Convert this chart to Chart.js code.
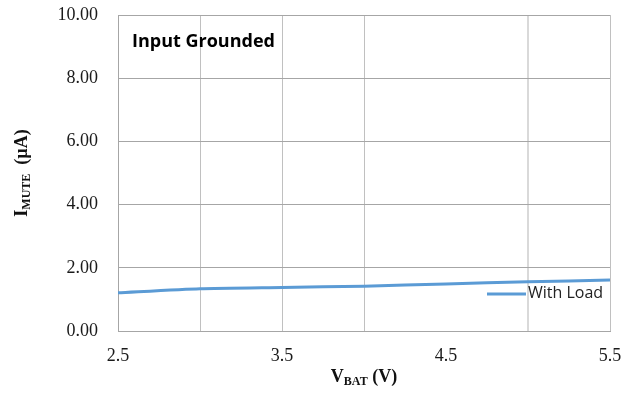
<!DOCTYPE html>
<html>
<head>
<meta charset="utf-8">
<script src="https://cdn.jsdelivr.net/npm/chart.js@4/dist/chart.umd.min.js"></script>
<style>
  html, body { margin: 0; padding: 0; background: #fff; }
  #wrap { width: 633px; height: 397px; position: relative; }
</style>
</head>
<body>
<div id="wrap"><canvas id="muteChart"></canvas></div>
<script>
// values
const vbat = [2.5, 3.0, 3.5, 4.0, 4.5, 5.0, 5.5];
const iMuteWithLoad = [1.21, 1.34, 1.38, 1.42, 1.49, 1.56, 1.61];
const xTickLabels = [2.5, 3.5, 4.5, 5.5];
const seriesName = "With Load";
const chartNote = "Input Grounded";

const serif = "'Liberation Serif', 'DejaVu Serif', serif";
const sans = "'Open Sans', 'Liberation Sans', sans-serif";

// draws the note, the axis titles (with subscripts) and the legend box
const extras = {
  id: "extras",
  afterDraw(chart) {
    const ctx = chart.ctx;
    const area = chart.chartArea;
    ctx.save();

    ctx.fillStyle = "#000";
    ctx.font = "bold 18px " + sans;
    ctx.textBaseline = "middle";
    ctx.textAlign = "left";
    ctx.fillText(chartNote, area.left + 14, area.top + 27);

    const drawSub = (parts, x, y) => {
      let w = 0;
      parts.forEach(p => { ctx.font = p[1]; w += ctx.measureText(p[0]).width; });
      let cx = x - w / 2;
      parts.forEach(p => {
        ctx.font = p[1];
        ctx.fillText(p[0], cx, y + p[2]);
        cx += ctx.measureText(p[0]).width;
      });
    };
    ctx.fillStyle = "#111";
    ctx.textBaseline = "alphabetic";
    // x title: V_BAT (V)
    drawSub([
      ["V", "bold 18px " + serif, 0],
      ["BAT", "bold 12px " + serif, 3],
      [" (V)", "bold 18px " + serif, 0]
    ], (area.left + area.right) / 2, 382);

    // y title: I_MUTE (µA)
    ctx.save();
    ctx.translate(27, (area.top + area.bottom) / 2);
    ctx.rotate(-Math.PI / 2);
    drawSub([
      ["I", "bold 18px " + serif, 0],
      ["MUTE", "bold 12px " + serif, 3],
      ["  (\u00b5A)", "bold 18px " + serif, 0]
    ], 0, 0);
    ctx.restore();

    // legend inside plot, lower right
    const ds = chart.data.datasets[0];
    const ly = area.bottom - 37;
    ctx.strokeStyle = ds.borderColor;
    ctx.lineWidth = 3;
    ctx.beginPath();
    ctx.moveTo(area.right - 123, ly);
    ctx.lineTo(area.right - 84, ly);
    ctx.stroke();
    ctx.fillStyle = "#222";
    ctx.font = "16px " + sans;
    ctx.textBaseline = "middle";
    ctx.fillText(ds.label, area.right - 82, ly - 1);

    ctx.restore();
  }
};

new Chart(document.getElementById("muteChart"), {
  type: "line",
  data: {
    datasets: [{
      label: seriesName,
      data: vbat.map((v, i) => ({ x: v, y: iMuteWithLoad[i] })),
      borderColor: "#5b9bd5",
      borderWidth: 3,
      pointRadius: 0,
      tension: 0.2,
      fill: false
    }]
  },
  options: {
    responsive: true,
    maintainAspectRatio: false,
    animation: false,
    layout: { padding: { top: 15, right: 23, left: 0, bottom: 0 } },
    plugins: {
      legend: { display: false },
      tooltip: { enabled: false }
    },
    scales: {
      x: {
        type: "linear",
        min: 2.5,
        max: 5.5,
        afterFit: s => { s.height = 66; s.paddingLeft = 0; s.paddingRight = 0; },
        afterBuildTicks: s => {
          s.ticks = vbat.map(v => ({ value: v }));
        },
        ticks: {
          padding: 14,
          maxRotation: 0,
          autoSkip: false,
          color: "#1a1a1a",
          font: { family: serif, size: 18 },
          callback: v => xTickLabels.includes(v) ? v.toFixed(1) : ""
        },
        grid: {
          color: c => c.tick && c.tick.value === 4.5 ? "rgba(0,0,0,0)" :
            (c.tick && c.tick.value === 5.0 ? "#d9d9d9" : "#c0c0c0"),
          lineWidth: c => c.tick && c.tick.value === 5.0 ? 2 : 1,
          drawTicks: false
        },
        border: { color: "#a6a6a6" }
      },
      y: {
        min: 0,
        max: 10,
        afterFit: s => { s.width = 118; s.paddingTop = 0; s.paddingBottom = 0; },
        ticks: {
          stepSize: 2,
          padding: 20,
          color: "#1a1a1a",
          font: { family: serif, size: 18 },
          callback: v => v.toFixed(2)
        },
        grid: { color: "#a6a6a6", drawTicks: false },
        border: { color: "#a6a6a6" }
      }
    }
  },
  plugins: [extras]
});
</script>
</body>
</html>
